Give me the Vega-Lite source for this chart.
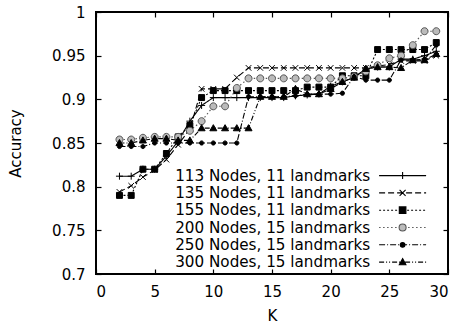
{
  "$schema": "https://vega.github.io/schema/vega-lite/v6.json",
  "width": 352,
  "height": 262,
  "autosize": "none",
  "padding": {"left": 96, "top": 12, "right": 11, "bottom": 55},
  "config": {
    "font": "DejaVu Sans",
    "view": {"stroke": "black", "strokeWidth": 2},
    "axis": {"grid": false, "domain": false, "labelColor": "black", "titleColor": "black", "tickColor": "black"},
    "legend": {"orient": "none", "legendX": 60, "legendY": 156, "title": null, "padding": 0, "labelFontSize": 15.2, "labelColor": "black", "labelAlign": "right", "labelOffset": -40, "symbolOffset": 239, "symbolSize": 100, "symbolStrokeWidth": 1.1, "symbolFillColor": "transparent", "rowPadding": 1.3, "labelLimit": 400}
  },
  "data": {
    "values": [
      {"k": 2, "acc": 0.812, "s": "113 Nodes, 11 landmarks"}, {"k": 3, "acc": 0.812, "s": "113 Nodes, 11 landmarks"}, {"k": 4, "acc": 0.820, "s": "113 Nodes, 11 landmarks"}, {"k": 5, "acc": 0.820, "s": "113 Nodes, 11 landmarks"}, {"k": 6, "acc": 0.835, "s": "113 Nodes, 11 landmarks"}, {"k": 7, "acc": 0.852, "s": "113 Nodes, 11 landmarks"}, {"k": 8, "acc": 0.875, "s": "113 Nodes, 11 landmarks"}, {"k": 9, "acc": 0.893, "s": "113 Nodes, 11 landmarks"}, {"k": 10, "acc": 0.902, "s": "113 Nodes, 11 landmarks"}, {"k": 11, "acc": 0.902, "s": "113 Nodes, 11 landmarks"}, {"k": 12, "acc": 0.902, "s": "113 Nodes, 11 landmarks"}, {"k": 13, "acc": 0.902, "s": "113 Nodes, 11 landmarks"}, {"k": 14, "acc": 0.902, "s": "113 Nodes, 11 landmarks"}, {"k": 15, "acc": 0.902, "s": "113 Nodes, 11 landmarks"}, {"k": 16, "acc": 0.902, "s": "113 Nodes, 11 landmarks"}, {"k": 17, "acc": 0.904, "s": "113 Nodes, 11 landmarks"}, {"k": 18, "acc": 0.905, "s": "113 Nodes, 11 landmarks"}, {"k": 19, "acc": 0.906, "s": "113 Nodes, 11 landmarks"}, {"k": 20, "acc": 0.915, "s": "113 Nodes, 11 landmarks"}, {"k": 21, "acc": 0.920, "s": "113 Nodes, 11 landmarks"}, {"k": 22, "acc": 0.925, "s": "113 Nodes, 11 landmarks"}, {"k": 23, "acc": 0.935, "s": "113 Nodes, 11 landmarks"}, {"k": 24, "acc": 0.937, "s": "113 Nodes, 11 landmarks"}, {"k": 25, "acc": 0.937, "s": "113 Nodes, 11 landmarks"}, {"k": 26, "acc": 0.946, "s": "113 Nodes, 11 landmarks"}, {"k": 27, "acc": 0.946, "s": "113 Nodes, 11 landmarks"}, {"k": 28, "acc": 0.950, "s": "113 Nodes, 11 landmarks"}, {"k": 29, "acc": 0.955, "s": "113 Nodes, 11 landmarks"},
      {"k": 2, "acc": 0.794, "s": "135 Nodes, 11 landmarks"}, {"k": 3, "acc": 0.801, "s": "135 Nodes, 11 landmarks"}, {"k": 4, "acc": 0.811, "s": "135 Nodes, 11 landmarks"}, {"k": 5, "acc": 0.819, "s": "135 Nodes, 11 landmarks"}, {"k": 6, "acc": 0.831, "s": "135 Nodes, 11 landmarks"}, {"k": 7, "acc": 0.848, "s": "135 Nodes, 11 landmarks"}, {"k": 8, "acc": 0.866, "s": "135 Nodes, 11 landmarks"}, {"k": 9, "acc": 0.912, "s": "135 Nodes, 11 landmarks"}, {"k": 10, "acc": 0.912, "s": "135 Nodes, 11 landmarks"}, {"k": 11, "acc": 0.912, "s": "135 Nodes, 11 landmarks"}, {"k": 12, "acc": 0.925, "s": "135 Nodes, 11 landmarks"}, {"k": 13, "acc": 0.936, "s": "135 Nodes, 11 landmarks"}, {"k": 14, "acc": 0.936, "s": "135 Nodes, 11 landmarks"}, {"k": 15, "acc": 0.936, "s": "135 Nodes, 11 landmarks"}, {"k": 16, "acc": 0.936, "s": "135 Nodes, 11 landmarks"}, {"k": 17, "acc": 0.936, "s": "135 Nodes, 11 landmarks"}, {"k": 18, "acc": 0.936, "s": "135 Nodes, 11 landmarks"}, {"k": 19, "acc": 0.936, "s": "135 Nodes, 11 landmarks"}, {"k": 20, "acc": 0.936, "s": "135 Nodes, 11 landmarks"}, {"k": 21, "acc": 0.936, "s": "135 Nodes, 11 landmarks"}, {"k": 22, "acc": 0.936, "s": "135 Nodes, 11 landmarks"}, {"k": 23, "acc": 0.936, "s": "135 Nodes, 11 landmarks"}, {"k": 24, "acc": 0.938, "s": "135 Nodes, 11 landmarks"}, {"k": 25, "acc": 0.940, "s": "135 Nodes, 11 landmarks"}, {"k": 26, "acc": 0.944, "s": "135 Nodes, 11 landmarks"}, {"k": 27, "acc": 0.944, "s": "135 Nodes, 11 landmarks"}, {"k": 28, "acc": 0.944, "s": "135 Nodes, 11 landmarks"}, {"k": 29, "acc": 0.950, "s": "135 Nodes, 11 landmarks"},
      {"k": 2, "acc": 0.790, "s": "155 Nodes, 11 landmarks"}, {"k": 3, "acc": 0.790, "s": "155 Nodes, 11 landmarks"}, {"k": 4, "acc": 0.820, "s": "155 Nodes, 11 landmarks"}, {"k": 5, "acc": 0.820, "s": "155 Nodes, 11 landmarks"}, {"k": 6, "acc": 0.838, "s": "155 Nodes, 11 landmarks"}, {"k": 7, "acc": 0.857, "s": "155 Nodes, 11 landmarks"}, {"k": 8, "acc": 0.870, "s": "155 Nodes, 11 landmarks"}, {"k": 9, "acc": 0.902, "s": "155 Nodes, 11 landmarks"}, {"k": 10, "acc": 0.910, "s": "155 Nodes, 11 landmarks"}, {"k": 11, "acc": 0.910, "s": "155 Nodes, 11 landmarks"}, {"k": 12, "acc": 0.910, "s": "155 Nodes, 11 landmarks"}, {"k": 13, "acc": 0.910, "s": "155 Nodes, 11 landmarks"}, {"k": 14, "acc": 0.910, "s": "155 Nodes, 11 landmarks"}, {"k": 15, "acc": 0.910, "s": "155 Nodes, 11 landmarks"}, {"k": 16, "acc": 0.910, "s": "155 Nodes, 11 landmarks"}, {"k": 17, "acc": 0.910, "s": "155 Nodes, 11 landmarks"}, {"k": 18, "acc": 0.914, "s": "155 Nodes, 11 landmarks"}, {"k": 19, "acc": 0.914, "s": "155 Nodes, 11 landmarks"}, {"k": 20, "acc": 0.914, "s": "155 Nodes, 11 landmarks"}, {"k": 21, "acc": 0.927, "s": "155 Nodes, 11 landmarks"}, {"k": 22, "acc": 0.927, "s": "155 Nodes, 11 landmarks"}, {"k": 23, "acc": 0.927, "s": "155 Nodes, 11 landmarks"}, {"k": 24, "acc": 0.957, "s": "155 Nodes, 11 landmarks"}, {"k": 25, "acc": 0.957, "s": "155 Nodes, 11 landmarks"}, {"k": 26, "acc": 0.957, "s": "155 Nodes, 11 landmarks"}, {"k": 27, "acc": 0.957, "s": "155 Nodes, 11 landmarks"}, {"k": 28, "acc": 0.957, "s": "155 Nodes, 11 landmarks"}, {"k": 29, "acc": 0.965, "s": "155 Nodes, 11 landmarks"},
      {"k": 2, "acc": 0.854, "s": "200 Nodes, 15 landmarks"}, {"k": 3, "acc": 0.854, "s": "200 Nodes, 15 landmarks"}, {"k": 4, "acc": 0.856, "s": "200 Nodes, 15 landmarks"}, {"k": 5, "acc": 0.857, "s": "200 Nodes, 15 landmarks"}, {"k": 6, "acc": 0.857, "s": "200 Nodes, 15 landmarks"}, {"k": 7, "acc": 0.857, "s": "200 Nodes, 15 landmarks"}, {"k": 8, "acc": 0.864, "s": "200 Nodes, 15 landmarks"}, {"k": 9, "acc": 0.875, "s": "200 Nodes, 15 landmarks"}, {"k": 10, "acc": 0.892, "s": "200 Nodes, 15 landmarks"}, {"k": 11, "acc": 0.892, "s": "200 Nodes, 15 landmarks"}, {"k": 12, "acc": 0.913, "s": "200 Nodes, 15 landmarks"}, {"k": 13, "acc": 0.924, "s": "200 Nodes, 15 landmarks"}, {"k": 14, "acc": 0.924, "s": "200 Nodes, 15 landmarks"}, {"k": 15, "acc": 0.924, "s": "200 Nodes, 15 landmarks"}, {"k": 16, "acc": 0.924, "s": "200 Nodes, 15 landmarks"}, {"k": 17, "acc": 0.924, "s": "200 Nodes, 15 landmarks"}, {"k": 18, "acc": 0.924, "s": "200 Nodes, 15 landmarks"}, {"k": 19, "acc": 0.924, "s": "200 Nodes, 15 landmarks"}, {"k": 20, "acc": 0.924, "s": "200 Nodes, 15 landmarks"}, {"k": 21, "acc": 0.924, "s": "200 Nodes, 15 landmarks"}, {"k": 22, "acc": 0.926, "s": "200 Nodes, 15 landmarks"}, {"k": 23, "acc": 0.932, "s": "200 Nodes, 15 landmarks"}, {"k": 24, "acc": 0.939, "s": "200 Nodes, 15 landmarks"}, {"k": 25, "acc": 0.947, "s": "200 Nodes, 15 landmarks"}, {"k": 26, "acc": 0.950, "s": "200 Nodes, 15 landmarks"}, {"k": 27, "acc": 0.962, "s": "200 Nodes, 15 landmarks"}, {"k": 28, "acc": 0.978, "s": "200 Nodes, 15 landmarks"}, {"k": 29, "acc": 0.978, "s": "200 Nodes, 15 landmarks"},
      {"k": 2, "acc": 0.846, "s": "250 Nodes, 15 landmarks"}, {"k": 3, "acc": 0.846, "s": "250 Nodes, 15 landmarks"}, {"k": 4, "acc": 0.846, "s": "250 Nodes, 15 landmarks"}, {"k": 5, "acc": 0.850, "s": "250 Nodes, 15 landmarks"}, {"k": 6, "acc": 0.850, "s": "250 Nodes, 15 landmarks"}, {"k": 7, "acc": 0.850, "s": "250 Nodes, 15 landmarks"}, {"k": 8, "acc": 0.850, "s": "250 Nodes, 15 landmarks"}, {"k": 9, "acc": 0.850, "s": "250 Nodes, 15 landmarks"}, {"k": 10, "acc": 0.850, "s": "250 Nodes, 15 landmarks"}, {"k": 11, "acc": 0.850, "s": "250 Nodes, 15 landmarks"}, {"k": 12, "acc": 0.850, "s": "250 Nodes, 15 landmarks"}, {"k": 13, "acc": 0.903, "s": "250 Nodes, 15 landmarks"}, {"k": 14, "acc": 0.903, "s": "250 Nodes, 15 landmarks"}, {"k": 15, "acc": 0.903, "s": "250 Nodes, 15 landmarks"}, {"k": 16, "acc": 0.903, "s": "250 Nodes, 15 landmarks"}, {"k": 17, "acc": 0.904, "s": "250 Nodes, 15 landmarks"}, {"k": 18, "acc": 0.906, "s": "250 Nodes, 15 landmarks"}, {"k": 19, "acc": 0.906, "s": "250 Nodes, 15 landmarks"}, {"k": 20, "acc": 0.906, "s": "250 Nodes, 15 landmarks"}, {"k": 21, "acc": 0.907, "s": "250 Nodes, 15 landmarks"}, {"k": 22, "acc": 0.926, "s": "250 Nodes, 15 landmarks"}, {"k": 23, "acc": 0.922, "s": "250 Nodes, 15 landmarks"}, {"k": 24, "acc": 0.922, "s": "250 Nodes, 15 landmarks"}, {"k": 25, "acc": 0.922, "s": "250 Nodes, 15 landmarks"}, {"k": 26, "acc": 0.945, "s": "250 Nodes, 15 landmarks"}, {"k": 27, "acc": 0.945, "s": "250 Nodes, 15 landmarks"}, {"k": 28, "acc": 0.946, "s": "250 Nodes, 15 landmarks"}, {"k": 29, "acc": 0.962, "s": "250 Nodes, 15 landmarks"},
      {"k": 2, "acc": 0.850, "s": "300 Nodes, 15 landmarks"}, {"k": 3, "acc": 0.850, "s": "300 Nodes, 15 landmarks"}, {"k": 4, "acc": 0.853, "s": "300 Nodes, 15 landmarks"}, {"k": 5, "acc": 0.855, "s": "300 Nodes, 15 landmarks"}, {"k": 6, "acc": 0.855, "s": "300 Nodes, 15 landmarks"}, {"k": 7, "acc": 0.853, "s": "300 Nodes, 15 landmarks"}, {"k": 8, "acc": 0.853, "s": "300 Nodes, 15 landmarks"}, {"k": 9, "acc": 0.867, "s": "300 Nodes, 15 landmarks"}, {"k": 10, "acc": 0.867, "s": "300 Nodes, 15 landmarks"}, {"k": 11, "acc": 0.867, "s": "300 Nodes, 15 landmarks"}, {"k": 12, "acc": 0.867, "s": "300 Nodes, 15 landmarks"}, {"k": 13, "acc": 0.867, "s": "300 Nodes, 15 landmarks"}, {"k": 14, "acc": 0.903, "s": "300 Nodes, 15 landmarks"}, {"k": 15, "acc": 0.903, "s": "300 Nodes, 15 landmarks"}, {"k": 16, "acc": 0.903, "s": "300 Nodes, 15 landmarks"}, {"k": 17, "acc": 0.912, "s": "300 Nodes, 15 landmarks"}, {"k": 18, "acc": 0.906, "s": "300 Nodes, 15 landmarks"}, {"k": 19, "acc": 0.906, "s": "300 Nodes, 15 landmarks"}, {"k": 20, "acc": 0.912, "s": "300 Nodes, 15 landmarks"}, {"k": 21, "acc": 0.920, "s": "300 Nodes, 15 landmarks"}, {"k": 22, "acc": 0.925, "s": "300 Nodes, 15 landmarks"}, {"k": 23, "acc": 0.935, "s": "300 Nodes, 15 landmarks"}, {"k": 24, "acc": 0.937, "s": "300 Nodes, 15 landmarks"}, {"k": 25, "acc": 0.937, "s": "300 Nodes, 15 landmarks"}, {"k": 26, "acc": 0.936, "s": "300 Nodes, 15 landmarks"}, {"k": 27, "acc": 0.945, "s": "300 Nodes, 15 landmarks"}, {"k": 28, "acc": 0.945, "s": "300 Nodes, 15 landmarks"}, {"k": 29, "acc": 0.952, "s": "300 Nodes, 15 landmarks"}
    ]
  },
  "resolve": {
    "scale": {"shape": "independent", "fill": "independent", "stroke": "independent"},
    "axis": {"x": "independent", "y": "independent"}
  },
  "layer": [
    {
      "mark": {"type": "line", "strokeWidth": 1.1},
      "encoding": {
        "x": {"field": "k", "type": "quantitative", "scale": {"domain": [0, 30], "nice": false, "zero": false},
          "axis": {"values": [0, 5, 10, 15, 20, 25, 30], "tickSize": -5, "tickWidth": 1.2, "labelPadding": 15, "labelFontSize": 15, "title": "K", "titleFontSize": 15, "titleFontWeight": "normal", "titleY": 34, "titleBaseline": "top"}},
        "y": {"field": "acc", "type": "quantitative", "scale": {"domain": [0.7, 1], "nice": false, "zero": false},
          "axis": {"values": [0.7, 0.75, 0.8, 0.85, 0.9, 0.95, 1], "format": "~g", "tickSize": -5, "tickWidth": 1.2, "labelPadding": 16, "labelFontSize": 15, "title": "Accuracy", "titleFontSize": 15, "titleFontWeight": "normal", "titleX": -81, "titleBaseline": "middle"}},
        "detail": {"field": "s"},
        "stroke": {"field": "s", "type": "nominal", "legend": null,
          "scale": {"domain": ["113 Nodes, 11 landmarks", "135 Nodes, 11 landmarks", "155 Nodes, 11 landmarks", "200 Nodes, 15 landmarks", "250 Nodes, 15 landmarks", "300 Nodes, 15 landmarks"],
            "range": ["#000000", "#000000", "#000000", "#555555", "#000000", "#000000"]}},
        "strokeDash": {"field": "s", "type": "nominal", "legend": null,
          "scale": {"domain": ["113 Nodes, 11 landmarks", "135 Nodes, 11 landmarks", "155 Nodes, 11 landmarks", "200 Nodes, 15 landmarks", "250 Nodes, 15 landmarks", "300 Nodes, 15 landmarks"],
            "range": [[1, 0], [6, 3], [2, 2], [1.5, 2.5], [6, 2, 1, 2], [5, 2, 1, 2, 1, 2]]}}
      }
    },
    {
      "mark": {"type": "point", "size": 49, "strokeWidth": 1, "opacity": 1},
      "encoding": {
        "x": {"field": "k", "type": "quantitative", "scale": {"domain": [0, 30], "nice": false, "zero": false},
          "axis": {"orient": "top", "values": [0, 5, 10, 15, 20, 25, 30], "tickSize": -5, "tickWidth": 1.2, "labels": false, "title": null}},
        "y": {"field": "acc", "type": "quantitative", "scale": {"domain": [0.7, 1], "nice": false, "zero": false},
          "axis": {"orient": "right", "values": [0.7, 0.75, 0.8, 0.85, 0.9, 0.95, 1], "tickSize": -5, "tickWidth": 1.2, "labels": false, "title": null}},
        "shape": {"field": "s", "type": "nominal", "legend": null,
          "scale": {"domain": ["113 Nodes, 11 landmarks", "135 Nodes, 11 landmarks", "155 Nodes, 11 landmarks", "200 Nodes, 15 landmarks", "250 Nodes, 15 landmarks", "300 Nodes, 15 landmarks"],
            "range": ["M-1,0H1M0,-1V1", "M-0.8,-0.8L0.8,0.8M-0.8,0.8L0.8,-0.8", "M-0.85,-0.85H0.85V0.85H-0.85Z", "M1,0A1,1 0 1,1 -1,0A1,1 0 1,1 1,0Z", "M0.6,0A0.6,0.6 0 1,1 -0.6,0A0.6,0.6 0 1,1 0.6,0Z", "M0,-1L1,0.75H-1Z"]}},
        "fill": {"field": "s", "type": "nominal", "legend": null,
          "scale": {"domain": ["113 Nodes, 11 landmarks", "135 Nodes, 11 landmarks", "155 Nodes, 11 landmarks", "200 Nodes, 15 landmarks", "250 Nodes, 15 landmarks", "300 Nodes, 15 landmarks"],
            "range": ["transparent", "transparent", "#000000", "#bbbbbb", "#000000", "#000000"]}},
        "stroke": {"field": "s", "type": "nominal", "legend": null,
          "scale": {"domain": ["113 Nodes, 11 landmarks", "135 Nodes, 11 landmarks", "155 Nodes, 11 landmarks", "200 Nodes, 15 landmarks", "250 Nodes, 15 landmarks", "300 Nodes, 15 landmarks"],
            "range": ["#000000", "#000000", "#000000", "#555555", "#000000", "#000000"]}}
      }
    },
    {
      "mark": {"type": "point", "filled": true, "opacity": 0, "size": 100, "strokeWidth": 1.1},
      "encoding": {
        "x": {"field": "k", "type": "quantitative", "scale": {"domain": [0, 30], "nice": false, "zero": false}, "axis": null},
        "y": {"field": "acc", "type": "quantitative", "scale": {"domain": [0.7, 1], "nice": false, "zero": false}, "axis": null},
        "shape": {"field": "s", "type": "nominal", "legend": {},
          "scale": {"domain": ["113 Nodes, 11 landmarks", "135 Nodes, 11 landmarks", "155 Nodes, 11 landmarks", "200 Nodes, 15 landmarks", "250 Nodes, 15 landmarks", "300 Nodes, 15 landmarks"],
            "range": [
              "M-4.7,0H4.7M0,-0.7V0.7",
              "M-4.7,0H-3.5M-2.9,0H-1.7M-1.1,0H0.1M0.7,0H1.9M2.5,0H3.7M4.3,0H4.7M-0.6,-0.6L0.6,0.6M-0.6,0.6L0.6,-0.6",
              "M-4.7,0H-4.3M-3.9,0H-3.5M-3.1,0H-2.7M-2.3,0H-1.9M-1.5,0H-1.1M-0.7,0H-0.3M0.1,0H0.5M0.9,0H1.3M1.7,0H2.1M2.5,0H2.9M3.3,0H3.7M4.1,0H4.5M-0.66,-0.66H0.66V0.66H-0.66Z",
              "M-4.7,0H-4.4M-3.9,0H-3.6M-3.1,0H-2.8M-2.3,0H-2M-1.5,0H-1.2M1.1,0H1.4M1.9,0H2.2M2.7,0H3M3.5,0H3.8M4.3,0H4.6M0.7,0A0.7,0.7 0 1,1 -0.7,0A0.7,0.7 0 1,1 0.7,0Z",
              "M-4.7,0H-3.5M-3.1,0H-2.9M-2.5,0H-1.3M-0.9,0H-0.7M-0.3,0H0.9M1.3,0H1.5M1.9,0H3.1M3.5,0H3.7M4.1,0H4.7M0.47,0A0.47,0.47 0 1,1 -0.47,0A0.47,0.47 0 1,1 0.47,0Z",
              "M-4.7,0H-3.7M-3.3,0H-3.1M-2.7,0H-2.5M-2.1,0H-1.1M-0.7,0H-0.5M-0.1,0H0.1M0.5,0H1.5M1.9,0H2.1M2.5,0H2.7M3.1,0H4.1M4.5,0H4.7M0,-0.7L0.66,0.52H-0.66Z"
            ]}},
        "fill": {"field": "s", "type": "nominal", "legend": {},
          "scale": {"domain": ["113 Nodes, 11 landmarks", "135 Nodes, 11 landmarks", "155 Nodes, 11 landmarks", "200 Nodes, 15 landmarks", "250 Nodes, 15 landmarks", "300 Nodes, 15 landmarks"],
            "range": ["transparent", "transparent", "#000000", "#bbbbbb", "#000000", "#000000"]}},
        "stroke": {"field": "s", "type": "nominal", "legend": {},
          "scale": {"domain": ["113 Nodes, 11 landmarks", "135 Nodes, 11 landmarks", "155 Nodes, 11 landmarks", "200 Nodes, 15 landmarks", "250 Nodes, 15 landmarks", "300 Nodes, 15 landmarks"],
            "range": ["#000000", "#000000", "#000000", "#555555", "#000000", "#000000"]}}
      }
    }
  ]
}
